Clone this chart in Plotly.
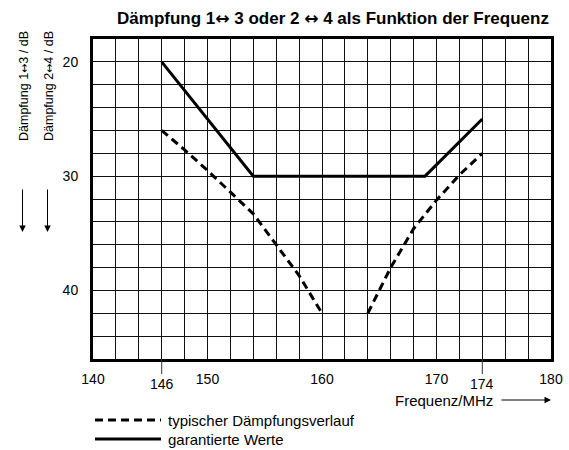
"""
Dämpfung als Funktion der Frequenz: garantierte Werte und typischer Verlauf.
"""
import plotly.graph_objects as go

# garantierte Werte (durchgezogen)
FREQ_GUARANTEED = [146, 154, 169, 174]
ATT_GUARANTEED = [20, 30, 30, 25]

# typischer Dämpfungsverlauf (gestrichelt), zwei Äste
FREQ_TYPICAL_LOW = [146, 148, 150, 152, 154, 156, 158, 160]
ATT_TYPICAL_LOW = [26, 27.7, 29.5, 31.4, 33.3, 36.0, 38.7, 42]
FREQ_TYPICAL_HIGH = [164, 166, 168, 170, 172, 174]
ATT_TYPICAL_HIGH = [42, 38.0, 34.6, 32.1, 29.9, 28.0]

X_GRID = list(range(140, 181, 2))
X_LABELS = [140, 150, 160, 170, 180]
X_MARKED = [146, 174]
Y_GRID = list(range(18, 47, 2))
Y_LABELS = [20, 30, 40]

FONT = 'Liberation Sans, Arial, sans-serif'
ARROW = '<span style="font-family:DejaVu Sans">↔</span>'
ARROW_SMALL = '<span style="font-family:DejaVu Sans;font-size:11px">↔</span>'

# Plotfläche in Pixeln
W, H = 569, 450
L, R, T, B = 93, 551, 39, 359


def px(x):
    return (x - L) / (R - L)


def py(y):
    return (B - y) / (B - T)


fig = go.Figure()

fig.add_trace(go.Scatter(
    x=FREQ_TYPICAL_LOW + [None] + FREQ_TYPICAL_HIGH,
    y=ATT_TYPICAL_LOW + [None] + ATT_TYPICAL_HIGH,
    mode='lines', connectgaps=False,
    line=dict(color='black', width=3, dash='8px,5px'),
    showlegend=False, hoverinfo='skip',
))
fig.add_trace(go.Scatter(
    x=FREQ_GUARANTEED, y=ATT_GUARANTEED,
    mode='lines',
    line=dict(color='black', width=3),
    showlegend=False, hoverinfo='skip',
))

annotations = []
shapes = []

# markierte Frequenzen 146 / 174 mit verlängertem Strich
for f in X_MARKED:
    shapes.append(dict(type='line', xref='x', yref='paper', x0=f, x1=f,
                       y0=0, y1=py(374), line=dict(color='#333', width=1)))
    annotations.append(dict(x=f, y=py(384), xref='x', yref='paper', text=str(f),
                            xanchor='center', yanchor='middle',
                            showarrow=False, font=dict(size=14)))

# Achsentitel links (gedreht) mit Pfeilen
for xc, txt in [(24, f'Dämpfung 1{ARROW_SMALL}3 / dB'), (49, f'Dämpfung 2{ARROW_SMALL}4 / dB')]:
    annotations.append(dict(x=px(xc), y=py(86), xref='paper', yref='paper', text=txt,
                            xanchor='center', yanchor='middle',
                            textangle=-90, showarrow=False, font=dict(size=12.5)))
    annotations.append(dict(x=px(xc - 1.5), y=py(232), xref='paper', yref='paper', text='',
                            showarrow=True, ax=0, ay=-44, arrowhead=2, arrowsize=1.3,
                            arrowwidth=1, arrowcolor='black'))

# x-Achsentitel mit Pfeil
annotations.append(dict(x=px(393), y=py(400), xref='paper', yref='paper', text='Frequenz/MHz',
                        xanchor='left', yanchor='middle', showarrow=False, font=dict(size=15)))
annotations.append(dict(x=px(551), y=py(400), xref='paper', yref='paper', text='',
                        showarrow=True, ax=-51, ay=0, arrowhead=2, arrowsize=1.3,
                        arrowwidth=1, arrowcolor='black'))

# Legende von Hand
for yy, dash, txt in [(420, '8px,5px', 'typischer Dämpfungsverlauf'),
                      (439, 'solid', 'garantierte Werte')]:
    shapes.append(dict(type='line', xref='paper', yref='paper', x0=px(95), x1=px(161),
                       y0=py(yy), y1=py(yy), line=dict(color='black', width=3, dash=dash)))
    annotations.append(dict(x=px(166), y=py(yy), xref='paper', yref='paper', text=txt,
                            xanchor='left', yanchor='middle', showarrow=False,
                            font=dict(size=15)))

fig.update_layout(
    width=W, height=H,
    margin=dict(l=L, r=W - R, t=T, b=H - B, autoexpand=False),
    paper_bgcolor='white', plot_bgcolor='white',
    font=dict(family=FONT, color='black', size=13),
    title=dict(text=f'<b>Dämpfung 1{ARROW} 3 oder 2 {ARROW} 4 als Funktion der Frequenz</b>',
               x=333 / W, xref='container', xanchor='center',
               y=1 - 18 / H, yref='container', yanchor='middle',
               font=dict(size=17)),
    annotations=annotations,
    shapes=shapes,
    showlegend=False,
)

fig.update_xaxes(
    range=[140, 180],
    tickvals=X_GRID,
    ticktext=[str(v) if v in X_LABELS else '' for v in X_GRID],
    showgrid=True, gridcolor='#111', gridwidth=1,
    zeroline=False, ticks='', ticklabelstandoff=5,
    showline=True, linecolor='black', linewidth=3, mirror=True,
    tickfont=dict(size=14), fixedrange=True,
)
fig.update_yaxes(
    range=[46, 18],
    tickvals=Y_GRID,
    ticktext=[str(v) if v in Y_LABELS else '' for v in Y_GRID],
    showgrid=True, gridcolor='#111', gridwidth=1,
    zeroline=False, ticks='', ticklabelstandoff=9,
    showline=True, linecolor='black', linewidth=3, mirror=True,
    tickfont=dict(size=14), fixedrange=True,
)

fig.write_html('out.html', config={'displayModeBar': False},
               post_script="document.body.style.margin='0';")
